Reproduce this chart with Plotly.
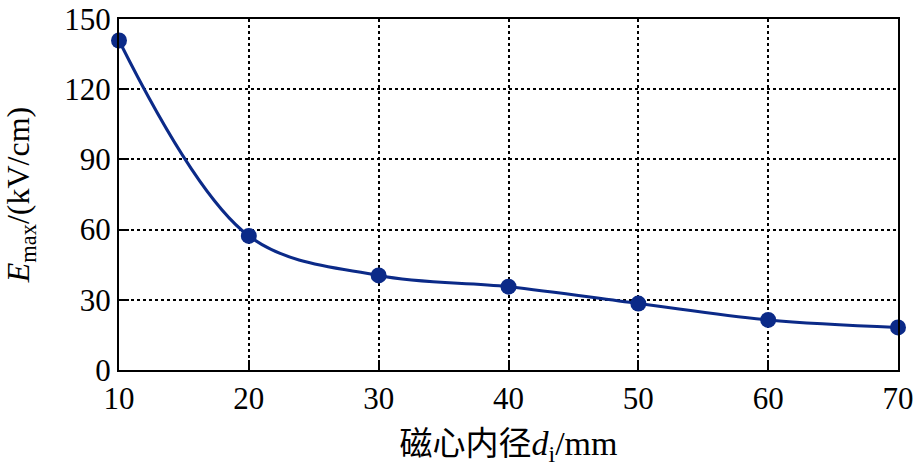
import plotly.graph_objects as go

# 磁心内径 (mm) 与最大场强 (kV/cm)
inner_diameter = [10, 20, 30, 40, 50, 60, 70]
e_max = [140.8, 57.3, 40.4, 35.6, 28.4, 21.4, 18.2]

x_ticks = [10, 20, 30, 40, 50, 60, 70]
y_ticks = [0, 30, 60, 90, 120, 150]

navy = '#0b2a88'
serif = 'Liberation Serif, Times New Roman, serif'
cjk = 'Noto Sans CJK SC'

fig = go.Figure()

fig.add_trace(go.Scatter(
    x=inner_diameter,
    y=e_max,
    mode='lines+markers',
    line=dict(color=navy, width=3, shape='spline', smoothing=1.0),
    marker=dict(color=navy, size=16),
    cliponaxis=False,
    showlegend=False,
))

axis_common = dict(
    showline=True,
    linecolor='black',
    linewidth=2,
    mirror=True,
    ticks='inside',
    ticklen=10,
    tickwidth=2,
    tickcolor='black',
    showgrid=True,
    gridcolor='black',
    gridwidth=1.5,
    griddash='dot',
    zeroline=False,
    automargin=False,
    ticklabeloverflow='allow',
    tickfont=dict(family=serif, size=31, color='black'),
)

fig.update_xaxes(
    range=[10, 70],
    tickvals=x_ticks,
    title=dict(text=f'<span style="font-family:{cjk};font-size:33px">磁心内径</span><i>d</i><sub>i</sub>/mm',
               font=dict(family=serif, size=34, color='black'), standoff=16),
    **axis_common,
)
fig.update_yaxes(
    range=[0, 150],
    tickvals=y_ticks,
    title=dict(text='<i>E</i><sub>max</sub>/(kV/cm)',
               font=dict(family=serif, size=32, color='black'), standoff=40),
    **axis_common,
)

fig.update_layout(
    width=915,
    height=468,
    margin=dict(l=119, r=17, t=19, b=98),
    paper_bgcolor='white',
    plot_bgcolor='white',
)

fig.write_html(
    "out.html",
    config={'displayModeBar': False, 'responsive': False},
    post_script="document.body.style.margin='0px';document.body.style.overflow='hidden';",
)
